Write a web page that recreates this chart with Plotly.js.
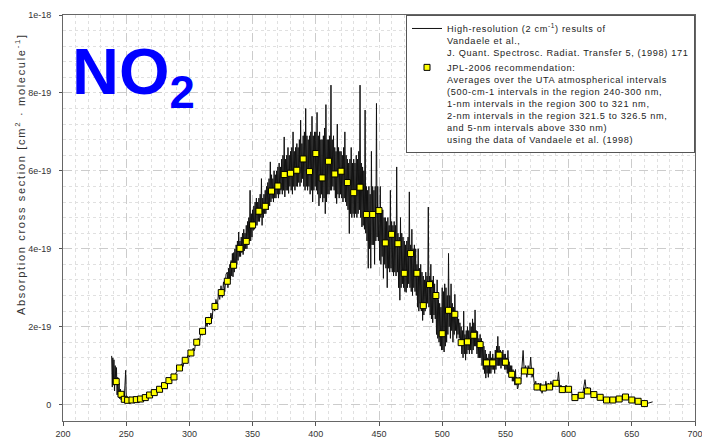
<!DOCTYPE html>
<html>
<head>
<meta charset="utf-8">
<script src="https://cdn.plot.ly/plotly-3.0.1.min.js"></script>
<style>
html,body{margin:0;padding:0;background:#fff;}
#chart{width:702px;height:438px;}
.legendtext{letter-spacing:0.65px;}
g.annotation[data-index="0"] text{letter-spacing:1.7px;}
</style>
</head>
<body>
<div id="chart"></div>
<script>
// High-resolution spectrum: wavelength (nm) and cross section in units of 1e-19 cm2/molecule
var hrX = [238.5,239,239.4,239.8,240.3,240.8,241.3,241.8,242.3,242.8,243.3,243.8,244.4,244.9,245.5,246,246.6,247.2,247.8,248.4,249,249.6,250.1,250.8,252,254,256,258,260,262,264,266,268,270,272,274,276,278,280,282,284,286,287,288,289,290,291,292,293,294,295,296,297,298,299,300,301,302,303,304,305,306,307,308,309,310,311,312,313,314,315,316,317,318,319,320,321,322,323,324,325,326,327,328,329,
330,330.5,331,331.5,332,332.5,333,333.5,334,334.5,
335,335.5,336,336.5,337,337.5,338,338.5,339,339.5,
340,340.5,341,341.5,342,342.5,343,343.5,344,344.5,
345,345.5,346,346.5,347,347.5,348,348.5,349,349.5,
350,350.5,351,351.5,352,352.5,353,353.5,354,354.5,
355,355.5,356,356.5,357,357.5,358,358.5,359,359.5,
360,360.5,361,361.5,362,362.5,363,363.5,364,364.5,
365,365.5,366,366.5,367,367.5,368,368.5,369,369.5,
370,370.5,371,371.5,372,372.5,373,373.5,374,374.5,
375,375.5,376,376.5,377,377.5,378,378.5,379,379.5,
380,380.5,381,381.5,382,382.5,383,383.5,384,384.5,
385,385.5,386,386.5,387,387.5,388,388.5,389,389.5,
390,390.5,391,391.5,392,392.5,393,393.5,394,394.5,
395,395.5,396,396.5,397,397.5,398,398.5,399,399.5,
400,400.5,401,401.5,402,402.5,403,403.5,404,404.5,
405,405.5,406,406.5,407,407.5,408,408.5,409,409.5,
410,410.5,411,411.5,412,412.5,413,413.5,414,414.5,
415,415.5,416,416.5,417,417.5,418,418.5,419,419.5,
420,420.5,421,421.5,422,422.5,423,423.5,424,424.5,
425,425.5,426,426.5,427,427.5,428,428.5,429,429.5,
430,430.5,431,431.5,432,432.5,433,433.5,434,434.5,
435,435.5,436,436.5,437,437.5,438,438.5,439,439.5,
440,440.5,441,441.5,442,442.5,443,443.5,444,444.5,
445,445.5,446,446.5,447,447.5,448,448.5,449,449.5,
450,450.5,451,451.5,452,452.5,453,453.5,454,454.5,
455,455.5,456,456.5,457,457.5,458,458.5,459,459.5,
460,460.5,461,461.5,462,462.5,463,463.5,464,464.5,
465,465.5,466,466.5,467,467.5,468,468.5,469,469.5,
470,470.5,471,471.5,472,472.5,473,473.5,474,474.5,
475,475.5,476,476.5,477,477.5,478,478.5,479,479.5,
480,480.5,481,481.5,482,482.5,483,483.5,484,484.5,
485,485.5,486,486.5,487,487.5,488,488.5,489,489.5,
490,490.5,491,491.5,492,492.5,493,493.5,494,494.5,
495,495.5,496,496.5,497,497.5,498,498.5,499,499.5,
500,500.5,501,501.5,502,502.5,503,503.5,504,504.5,
505,505.5,506,506.5,507,507.5,508,508.5,509,509.5,
510,510.5,511,511.5,512,512.5,513,513.5,514,514.5,
515,515.5,516,516.5,517,517.5,518,518.5,519,519.5,
520,520.5,521,521.5,522,522.5,523,523.5,524,524.5,
525,525.5,526,526.5,527,527.5,528,528.5,529,529.5,
530,530.5,531,531.5,532,532.5,533,533.5,534,534.5,
535,535.5,536,536.5,537,537.5,538,538.5,539,539.5,
540,540.5,541,541.5,542,542.5,543,543.5,544,544.5,
545,545.5,546,546.5,547,547.5,548,548.5,549,549.5,
550,550.5,551,551.5,552,552.5,553,553.5,554,554.5,
555,555.5,556,556.5,557,557.5,558,558.5,559,559.5,
560,561,562,563,564,565,566,567,568,569,570,571,572,573,574,575,576,577,578,579,580,581,582,583,584,585,586,587,588,589,590,591,592,593,594,595,596,597,598,599,600,601,602,603,604,605,606,607,608,609,610,611,612,613,614,615,616,617,618,620,622,624,626,628,630,633,636,639,642,645,647,650,653,656,659,661,663,665,666.5];
var hrY = [1.25,0.45,1.2,0.5,1.15,0.35,1.0,0.6,0.95,0.25,0.7,0.2,0.55,0.15,0.4,0.12,0.3,0.08,0.25,0.06,0.5,0.88,0.08,0.12,0.08,0.1,0.12,0.13,0.14,0.15,0.17,0.2,0.24,0.28,0.31,0.35,0.4,0.44,0.49,0.56,0.62,0.66,0.72,0.7,0.8,0.84,0.95,0.92,1.0,1.05,0.98,1.15,1.12,1.2,1.27,1.22,1.35,1.3,1.45,1.38,1.6,1.52,1.7,1.6,1.85,1.78,1.95,1.85,2.1,2.0,2.25,2.05,2.35,2.2,2.6,2.4,2.7,2.5,2.85,2.7,3.05,2.75,3.15,2.9,3.35,
3.4,3.0,3.5,3.1,3.6,3.2,3.7,3.3,3.88,3.28,
3.9,3.4,4.0,3.5,4.1,3.6,4.2,3.7,4.43,3.8,
4.2,3.8,4.3,3.9,4.4,3.85,4.5,3.95,4.4,4.0,
4.6,4.0,4.7,4.1,4.8,4.2,5.5,4.2,4.9,4.3,
5.0,4.47,5.1,4.5,5.2,4.6,5.3,4.6,5.2,4.7,
5.3,4.7,5.4,4.8,5.8,4.6,5.3,4.8,5.4,4.9,
5.5,4.9,5.6,5.0,5.7,5.0,5.8,5.1,6.23,5.2,
5.9,5.29,5.8,5.2,6.0,5.3,5.9,5.3,6.0,5.4,
6.1,5.3,6.2,5.4,6.1,5.5,6.3,5.4,6.4,5.5,
6.87,5.33,6.3,5.5,6.4,5.5,6.6,5.42,6.4,5.6,
6.5,5.5,6.6,5.4,7.0,5.6,6.5,5.5,6.6,5.6,
6.7,5.6,6.6,5.7,6.8,5.6,7.3,5.7,6.7,5.8,
6.9,5.6,7.0,5.5,7.6,5.6,6.9,5.5,6.8,5.6,
6.9,5.4,7.0,5.5,7.4,5.2,6.9,5.5,7.0,5.6,
7.0,5.5,7.5,5.4,6.9,5.1,7.0,5.3,6.8,5.4,
6.8,5.2,6.9,5.3,7.1,4.9,7.7,5.2,6.8,5.4,
6.8,5.4,6.9,5.5,8.2,5.5,6.8,5.6,6.9,5.5,
6.6,5.3,6.5,5.16,7.2,5.4,6.6,5.3,6.5,5.4,
6.5,5.3,6.4,5.2,6.6,5.3,7.0,5.2,6.4,5.1,
6.3,5.0,6.2,4.39,6.3,4.9,6.6,4.8,6.2,4.9,
6.3,4.8,6.2,4.9,6.4,4.8,6.3,4.9,6.5,5.0,
8.2,4.8,6.2,4.56,6.1,4.6,6.0,4.5,7.56,4.4,
5.6,4.2,5.5,3.5,5.6,4.0,5.4,3.5,6.5,4.1,
5.6,4.1,5.5,3.6,5.6,4.2,7.73,4.3,5.6,4.2,
5.0,3.7,5.6,3.6,4.9,3.8,5.0,3.24,4.8,3.6,
4.8,3.5,4.7,3.0,4.8,3.5,4.6,3.4,5.5,3.5,
4.7,3.4,4.6,3.3,4.7,3.4,4.6,3.3,6.1,3.4,
4.4,3.0,4.3,2.68,4.8,3.0,4.4,3.1,4.3,3.0,
4.2,2.9,4.1,2.88,4.2,3.0,4.3,3.1,5.46,3.0,
4.1,2.9,4.5,2.8,4.0,3.0,4.1,2.9,4.0,2.8,
3.6,2.5,4.0,2.4,3.5,2.6,3.6,2.4,3.4,2.16,
3.3,2.3,3.2,2.4,3.4,2.5,3.3,2.6,5.07,2.5,
3.3,2.3,3.6,2.2,3.2,2.1,3.3,2.3,3.1,2.2,
2.8,1.8,3.2,1.7,2.7,1.6,2.6,1.5,2.5,1.4,
3.0,1.4,2.9,1.35,3.1,1.5,3.0,1.6,2.8,1.8,
3.88,2.0,2.8,1.7,3.1,1.9,2.6,1.6,2.5,1.8,
2.83,1.9,2.4,1.7,2.3,1.8,2.2,1.7,2.1,1.6,
2.0,1.3,1.9,1.2,2.4,1.3,1.8,1.14,1.9,1.3,
2.0,1.4,1.9,1.3,2.1,1.4,2.0,1.3,2.2,1.4,
2.1,1.5,2.43,1.5,1.9,1.3,1.88,1.2,1.7,1.2,
1.8,1.2,1.7,1.0,1.6,0.9,1.5,0.8,1.4,0.68,
1.3,0.8,1.2,0.7,1.3,0.8,1.37,0.8,1.2,0.9,
1.3,0.9,1.2,0.8,1.4,0.9,1.5,1.0,1.75,1.0,
1.5,1.0,1.4,0.93,1.3,1.0,1.4,1.0,1.3,0.9,
1.3,0.9,1.2,0.8,1.39,0.8,1.1,0.7,1.0,0.7,
1.0,0.6,0.9,0.6,0.8,0.5,0.9,0.5,0.7,0.4,
0.44,0.7,0.55,0.9,1.39,0.8,1.0,0.7,1.0,0.8,1.22,0.7,0.8,0.5,0.6,0.37,0.55,0.4,0.55,0.29,0.5,0.35,0.6,0.4,0.55,0.4,0.6,0.45,0.6,0.5,0.6,0.5,0.84,0.45,0.5,0.35,0.45,0.35,0.5,0.35,0.45,0.35,0.4,0.2,0.25,0.15,0.2,0.2,0.25,0.2,0.3,0.25,0.45,0.64,0.35,0.45,0.3,0.35,0.25,0.3,0.2,0.22,0.15,0.15,0.12,0.1,0.12,0.15,0.2,0.24,0.15,0.12,0.1,0.08,0.05,0.02,0.04,0.06,0.07];

// JPL-2006 averaged values: wavelength (nm) and cross section in units of 1e-19
var jplX = [242.1,245.9,248.5,251.1,254.6,258.0,261.4,265.1,268.5,272.2,276.4,280.3,283.8,287.8,292.2,296.7,301.2,305.8,310.4,315.1,320.2,325.2,330,335,340,345,350,355,360,365,370,375,380,385,390,395,400,405,410,415,420,425,430,435,440,445,450,455,460,465,470,475,480,485,490,495,500,505,510,515,520,525,530,535,540,545,550,555,560,565,570,575,580,585,590,595,600,605,610,615,620,625,630,635,640,645,650,655,660];
var jplY = [0.59,0.264,0.136,0.11,0.118,0.128,0.144,0.18,0.246,0.308,0.393,0.488,0.616,0.709,0.94,1.137,1.325,1.6,1.88,2.157,2.52,2.875,3.166,3.576,4.01,4.19,4.61,4.963,5.09,5.48,5.61,5.905,5.938,6.015,6.305,5.98,6.444,5.818,6.246,5.92,5.99,5.70,5.44,5.58,4.88,4.88,4.98,4.15,4.37,4.13,3.37,3.877,3.37,2.54,3.08,2.8,1.82,2.42,2.318,1.59,1.61,1.78,1.54,1.07,1.07,1.27,1.09,0.778,0.606,0.863,0.855,0.452,0.426,0.452,0.547,0.385,0.393,0.18,0.239,0.349,0.257,0.187,0.118,0.118,0.144,0.195,0.118,0.085,0.026];

var UNIT = 1e-19;
var yTickVals = [0, 2e-19, 4e-19, 6e-19, 8e-19, 1e-18];
var yTickText = ['0', '2e-19', '4e-19', '6e-19', '8e-19', '1e-18'];
var xTickVals = [200, 250, 300, 350, 400, 450, 500, 550, 600, 650, 700];

var legendHR = 'High-resolution (2 cm<sup>-1</sup>) results of<br>Vandaele et al.,<br>J. Quant. Spectrosc. Radiat. Transfer 5, (1998) 171';
var legendJPL = 'JPL-2006 recommendation:<br>Averages over the UTA atmospherical intervals<br>(500-cm-1 intervals in the region 240-300 nm,<br>1-nm intervals in the region 300 to 321 nm,<br>2-nm intervals in the region 321.5 to 326.5 nm,<br>and 5-nm intervals above 330 nm)<br>using the data of Vandaele et al. (1998)';

var FONT = 'Liberation Sans, Arial, sans-serif';

var traces = [
  {
    x: hrX, y: hrY.map(function(v){return v*UNIT;}),
    type: 'scatter', mode: 'lines', name: legendHR,
    line: {color: '#111111', width: 1}
  },
  {
    x: jplX, y: jplY.map(function(v){return v*UNIT;}),
    type: 'scatter', mode: 'markers', name: legendJPL,
    marker: {symbol: 'square', size: 6, color: '#ffff00', line: {color: '#000000', width: 1}}
  }
];

var layout = {
  width: 702, height: 438,
  margin: {l: 63, r: 7, t: 15, b: 17},
  paper_bgcolor: '#ffffff', plot_bgcolor: '#ffffff',
  showlegend: true,
  legend: {
    x: 1, y: 1, xanchor: 'right', yanchor: 'top',
    bgcolor: '#ffffff', bordercolor: '#555555', borderwidth: 1,
    font: {family: FONT, size: 9.2, color: '#222222'},
    valign: 'top', tracegroupgap: 1
  },
  xaxis: {
    range: [200, 700], tickvals: xTickVals, ticks: 'outside', ticklen: 4, tickcolor: '#555',
    ticklabeloverflow: 'allow',
    showline: true, linecolor: '#666666', linewidth: 1, mirror: true, zeroline: false,
    showgrid: true, gridcolor: '#cccccc', griddash: 'dash', gridwidth: 1,
    minor: {dtick: 10, tick0: 200, showgrid: true, gridcolor: '#e0e0e0', griddash: 'dot', ticks: ''},
    tickfont: {family: FONT, size: 9, color: '#333333'}
  },
  yaxis: {
    range: [-4.21e-20, 1e-18], tickvals: yTickVals, ticktext: yTickText, ticks: 'outside', ticklen: 3, tickcolor: '#555',
    showline: true, linecolor: '#666666', linewidth: 1, mirror: true, zeroline: false,
    showgrid: true, gridcolor: '#cccccc', griddash: 'dash', gridwidth: 1,
    minor: {dtick: 4e-20, tick0: 0, showgrid: true, gridcolor: '#e0e0e0', griddash: 'dot', ticks: ''},
    tickfont: {family: FONT, size: 9, color: '#333333'},
    ticklabelstandoff: 6
  },
  annotations: [
    {
      text: 'Absorption cross section [cm<sup>2</sup> · molecule<sup>-1</sup>]',
      xref: 'paper', yref: 'paper', x: -0.0675, y: 0.608, xanchor: 'center', yanchor: 'middle',
      textangle: -90, showarrow: false,
      font: {family: FONT, size: 11, color: '#333333'}
    },
    {
      text: '<b>NO<sub>2</sub></b>',
      xref: 'paper', yref: 'paper', x: 0.011, y: 0.955, xanchor: 'left', yanchor: 'top',
      showarrow: false,
      font: {family: FONT, size: 65, color: '#0000ff'}
    }
  ]
};

Plotly.newPlot('chart', traces, layout, {displayModeBar: false, staticPlot: true});
</script>
</body>
</html>
